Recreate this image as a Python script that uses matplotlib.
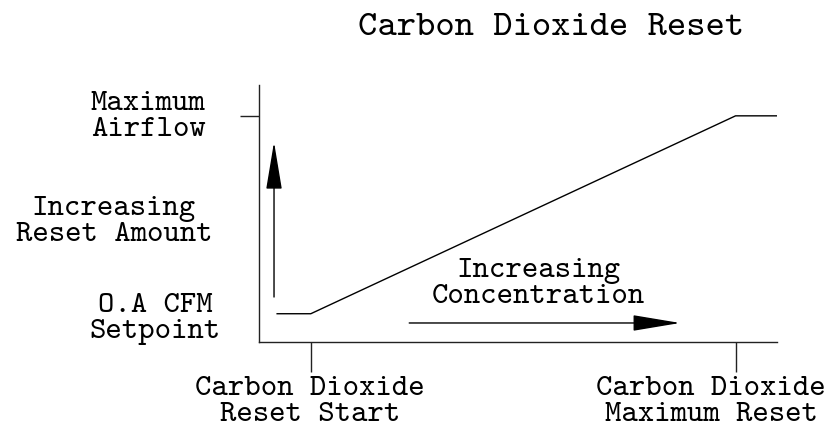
import matplotlib
matplotlib.use("Agg")
import matplotlib.pyplot as plt

# typewriter serif face shipped with matplotlib
plt.rcParams['font.family'] = ['cmtt10', 'DejaVu Sans Mono']

# reset curve: concentration (x) vs outside air setpoint (y), arbitrary 0-100 units
conc = [3.5, 10, 92, 100]
airflow = [11, 11, 88, 88]
reset_start = 10
reset_max = 92
max_airflow = 88

y_labels = ["Maximum\nAirflow", "Increasing\nReset Amount", "O.A CFM\nSetpoint"]
y_label_pos = [(-21.4, 87.6), (-28.0, 46.5), (-20.0, 8.9)]
x_labels = ["Carbon Dioxide\nReset Start", "Carbon Dioxide\nMaximum Reset"]
x_label_pos = [(9.8, -23.2), (87.3, -23.2)]

fig = plt.figure(figsize=(8.3, 4.28), dpi=100)
ax = fig.add_axes([259 / 830, 86 / 428, 518 / 830, 257 / 428])
ax.set_xlim(0, 100)
ax.set_ylim(0, 100)

ax.plot(conc, airflow, color='black', lw=1)

for side in ['top', 'right']:
    ax.spines[side].set_visible(False)
for side in ['left', 'bottom']:
    ax.spines[side].set_linewidth(1)
    ax.spines[side].set_color('#222222')

ax.set_xticks([reset_start, reset_max])
ax.set_yticks([max_airflow])
ax.tick_params(axis='x', length=21.5, width=1, direction='out', labelbottom=False, color='#222222')
ax.tick_params(axis='y', length=13.5, width=1, direction='out', labelleft=False, color='#222222')

arrow = dict(arrowstyle='-|>,head_length=3.0,head_width=0.5', mutation_scale=10,
             color='black', lw=1, shrinkA=0, shrinkB=0)
ax.annotate('', xy=(2.9, 77.8), xytext=(2.9, 17.5), arrowprops=arrow, annotation_clip=False)
ax.annotate('', xy=(81.3, 7.4), xytext=(29, 7.4), arrowprops=arrow, annotation_clip=False)

txt = dict(fontsize=22.5, ha='center', va='center', linespacing=1.0, clip_on=False)
for label, (x, y) in zip(y_labels, y_label_pos):
    ax.text(x, y, label, **txt)
for label, (x, y) in zip(x_labels, x_label_pos):
    ax.text(x, y, label, **txt)
ax.text(54, 22.5, "Increasing\nConcentration", **txt)

ax.text(56.4, 122, "Carbon Dioxide Reset", fontsize=26.5, ha='center', va='center', clip_on=False)

fig.savefig('out.png', dpi=100)
